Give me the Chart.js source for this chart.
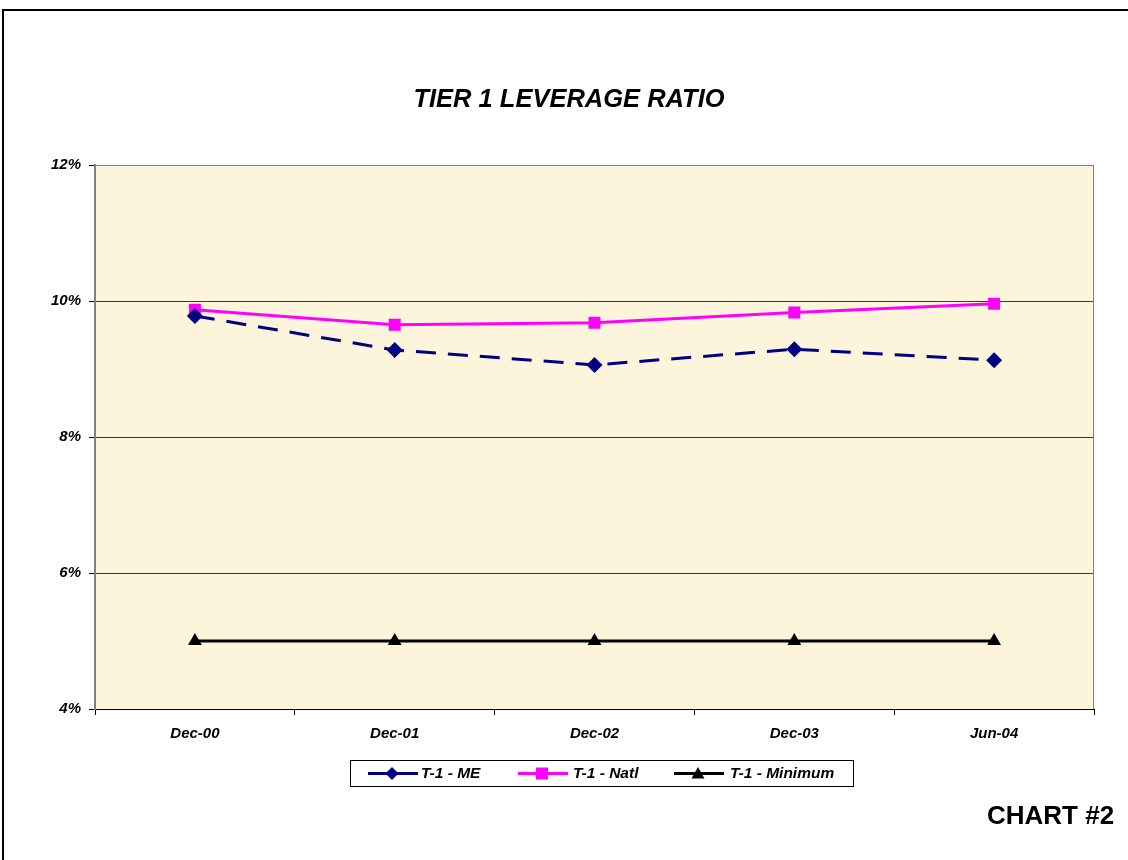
<!DOCTYPE html>
<html>
<head>
<meta charset="utf-8">
<script src="https://cdn.jsdelivr.net/npm/chart.js@4.4.0/dist/chart.umd.min.js"></script>
<style>
    body { margin: 0; background: #fff; }
    #wrap { position: relative; width: 1128px; height: 860px; overflow: hidden; }
    #frame { position: absolute; left: 2px; top: 9px; width: 1300px; height: 1000px;
        border-top: 2px solid #000; border-left: 2px solid #000; }
    #chartNo { position: absolute; left: 987px; top: 800px; font: bold 26px Arial, "Liberation Sans", sans-serif; color: #000; }
    canvas { position: absolute; left: 0; top: 0; }
</style>
</head>
<body>
<div id="wrap">
    <div id="frame"></div>
    <canvas id="leverage-graph" width="1128" height="860"></canvas>
    <div id="chartNo">CHART #2</div>
</div>
<script>
const categories = ['Dec-00', 'Dec-01', 'Dec-02', 'Dec-03', 'Jun-04'];
const meValues = [9.78, 9.28, 9.06, 9.29, 9.13];
const natlValues = [9.87, 9.65, 9.68, 9.83, 9.96];
const minimumValues = [5, 5, 5, 5, 5];
const yTicks = [4, 6, 8, 10, 12];
const chartTitle = 'TIER 1 LEVERAGE RATIO';

const FONT = 'Arial, "Liberation Sans", sans-serif';

// cream plot background + grey frame round the plot area
const plotBackground = {
    id: 'plotBackground',
    beforeDraw(chart) {
        const { ctx, chartArea: a } = chart;
        ctx.save();
        ctx.fillStyle = '#fcf4db';
        ctx.fillRect(a.left, a.top, a.right - a.left, a.bottom - a.top);
        ctx.restore();
    },
    afterDatasetsDraw(chart) {
        const { ctx, chartArea: a } = chart;
        ctx.save();
        ctx.strokeStyle = '#808080';
        ctx.lineWidth = 1;
        ctx.beginPath();
        ctx.moveTo(a.left, a.top + 0.5);
        ctx.lineTo(a.right - 0.5, a.top + 0.5);
        ctx.lineTo(a.right - 0.5, a.bottom);
        ctx.stroke();
        ctx.restore();
    }
};

// title sits a bit right of the canvas centre, like the original
const titlePlugin = {
    id: 'titlePlugin',
    afterDraw(chart) {
        const ctx = chart.ctx;
        ctx.save();
        ctx.fillStyle = '#000';
        ctx.font = 'italic bold 25.5px ' + FONT;
        ctx.textAlign = 'center';
        ctx.textBaseline = 'middle';
        ctx.fillText(chartTitle, 569, 100);
        ctx.restore();
    }
};

function drawMarker(ctx, style, x, y, r, color) {
    ctx.fillStyle = color;
    ctx.beginPath();
    if (style === 'rect') {
        ctx.rect(x - r, y - r, 2 * r, 2 * r);
    } else if (style === 'rectRot') {
        ctx.moveTo(x, y - r); ctx.lineTo(x + r, y); ctx.lineTo(x, y + r); ctx.lineTo(x - r, y);
        ctx.closePath();
    } else {
        ctx.moveTo(x, y - r); ctx.lineTo(x + r, y + r * 0.75); ctx.lineTo(x - r, y + r * 0.75);
        ctx.closePath();
    }
    ctx.fill();
}

// boxed legend under the x axis
const boxLegend = {
    id: 'boxLegend',
    afterDraw(chart) {
        const ctx = chart.ctx;
        const box = { x: 350, y: 760, w: 503, h: 26 };
        const items = [
            { lx: 368, tx: 421 },
            { lx: 518, tx: 573 },
            { lx: 674, tx: 730 }
        ];
        const cy = box.y + box.h / 2 + 0.5;
        ctx.save();
        ctx.strokeStyle = '#000';
        ctx.lineWidth = 1;
        ctx.strokeRect(box.x + 0.5, box.y + 0.5, box.w, box.h);
        chart.data.datasets.forEach((ds, i) => {
            const it = items[i];
            ctx.strokeStyle = ds.borderColor;
            ctx.lineWidth = 3;
            ctx.setLineDash([]);
            ctx.beginPath();
            ctx.moveTo(it.lx, cy);
            ctx.lineTo(it.lx + 50, cy);
            ctx.stroke();
            drawMarker(ctx, ds.pointStyle, it.lx + 24, cy, ds.pointStyle === 'rect' ? 6 : 6.5, ds.borderColor);
            ctx.fillStyle = '#000';
            ctx.font = 'italic bold 15.5px ' + FONT;
            ctx.textBaseline = 'middle';
            ctx.fillText(ds.label, it.tx, cy);
        });
        ctx.restore();
    }
};

function renderLeverageChart() {
    const ctx = document.getElementById('leverage-graph').getContext('2d');
    new Chart(ctx, {
        type: 'line',
        data: {
            labels: categories,
            datasets: [{
                label: 'T-1 - ME',
                data: meValues,
                borderColor: '#000080',
                backgroundColor: '#000080',
                borderWidth: 3,
                borderDash: [20, 12],
                pointStyle: 'rectRot',
                pointRadius: 8,
                pointBorderWidth: 0
            }, {
                label: 'T-1 - Natl',
                data: natlValues,
                borderColor: '#ff00ff',
                backgroundColor: '#ff00ff',
                borderWidth: 3,
                pointStyle: 'rect',
                pointRadius: 8.5,
                pointBorderWidth: 0
            }, {
                label: 'T-1 - Minimum',
                data: minimumValues,
                borderColor: '#000000',
                backgroundColor: '#000000',
                borderWidth: 3,
                pointStyle: 'triangle',
                pointRadius: 8,
                pointBorderWidth: 0
            }]
        },
        options: {
            responsive: false,
            animation: false,
            layout: { padding: { left: 0, right: 34, top: 165, bottom: 111 } },
            plugins: {
                legend: { display: false },
                tooltip: { enabled: false },
                title: { display: false }
            },
            scales: {
                x: {
                    offset: true,
                    afterFit: s => { s.height = 40; },
                    grid: { offset: true, drawOnChartArea: false, color: '#000', tickLength: 6 },
                    border: { color: '#000', width: 1 },
                    ticks: {
                        color: '#000', padding: 10, maxRotation: 0,
                        font: { family: FONT, size: 15, weight: 'bold', style: 'italic' }
                    }
                },
                y: {
                    min: 4,
                    max: 12,
                    afterFit: s => { s.width = 95; },
                    afterBuildTicks: s => { s.ticks = yTicks.map(v => ({ value: v })); },
                    grid: { color: '#3a3a3a', tickLength: 6, tickColor: '#000' },
                    border: { color: '#808080', width: 2 },
                    ticks: {
                        color: '#000', padding: 8,
                        callback: v => v + '%',
                        font: { family: FONT, size: 15, weight: 'bold', style: 'italic' }
                    }
                }
            }
        },
        plugins: [plotBackground, titlePlugin, boxLegend]
    });
}

window.onload = renderLeverageChart;
</script>
</body>
</html>
